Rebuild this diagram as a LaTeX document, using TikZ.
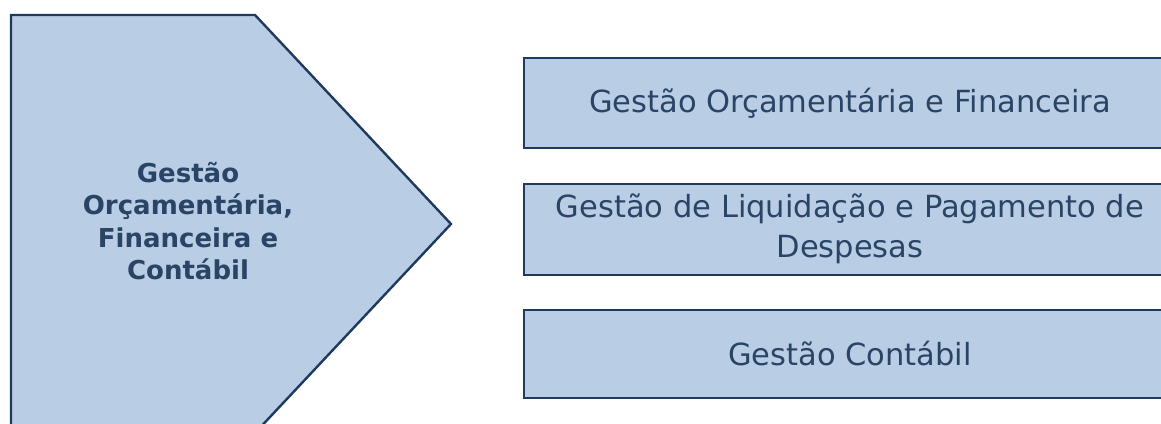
\documentclass[tikz,border=0pt]{standalone}
\usepackage{fontspec}
\setmainfont{DejaVu Sans}
\definecolor{boxfill}{HTML}{B9CDE5}
\definecolor{boxline}{HTML}{1F3A5C}
\definecolor{txt}{HTML}{2A4466}
\begin{document}
\begin{tikzpicture}[x=1pt,y=-1pt,
  shapeline/.style={draw=boxline,fill=boxfill,line width=2.4pt,line join=miter},
  itembox/.style={shapeline,rectangle,minimum width=654pt,minimum height=90pt,anchor=north west,inner sep=0pt},
  itemtext/.style={text=txt,font=\fontsize{30.5}{40}\selectfont,align=center},
  maintext/.style={text=txt,font=\bfseries\fontsize{26}{32.5}\selectfont,align=center}]
\useasboundingbox (0,0) rectangle (1161,423);
\clip (0,0) rectangle (1161,423);
\draw[shapeline] (11,15) -- (255,15) -- (451,224) -- (255,433) -- (11,433) -- cycle;
\node[maintext] (main) at (188,221) {Gestão\\Orçamentária,\\Financeira e\\Contábil};
\node[itembox] (b1) at (523,57) {};
\node[itembox,minimum height=91pt] (b2) at (523,183) {};
\node[itembox,minimum height=88pt] (b3) at (523,309) {};
\node[itemtext] (t1) at (850,103) {Gestão Orçamentária e Financeira};
\node[itemtext] (t2) at (850,229) {Gestão de Liquidação e Pagamento de\\Despesas};
\node[itemtext] (t3) at (850,354) {Gestão Contábil};
\end{tikzpicture}
\end{document}
